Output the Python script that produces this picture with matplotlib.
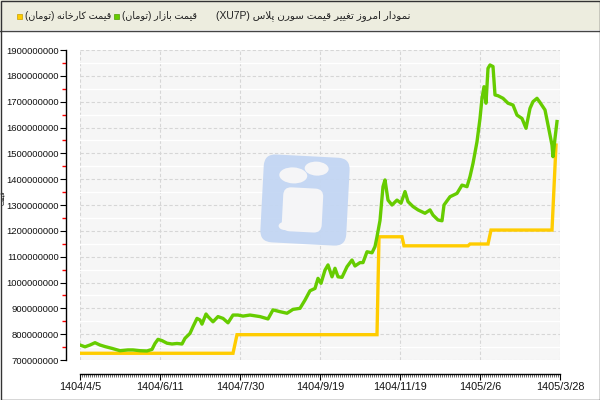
import re
import numpy as np
import matplotlib
matplotlib.use('Agg')
import matplotlib.pyplot as plt
import matplotlib.transforms as mtransforms
from matplotlib.patches import Rectangle, FancyBboxPatch, Ellipse
from matplotlib.ticker import MultipleLocator, FuncFormatter

# -- data (sample index along the x axis, price in million toman) --
market_t = [0, 5, 10, 15, 20, 25, 32, 40, 48, 53, 60, 67, 72, 75, 78, 82, 87, 92, 97, 102,
            105, 110, 113, 117, 120, 122, 126, 128, 133, 138, 143, 148, 153, 158, 163, 170,
            180, 188, 193, 200, 207, 213, 220, 225, 230, 235, 238, 241, 245, 248, 252, 255,
            258, 262, 267, 272, 275, 280, 283, 287, 292, 295, 297, 300, 303, 305, 308, 312,
            317, 321, 325, 328, 333, 338, 345, 350, 353, 358, 362, 364, 370, 377, 382, 387,
            390, 393, 397, 400, 402, 404, 406, 408, 410, 413, 415, 418, 423, 428, 433, 437,
            442, 446, 450, 453, 457, 460, 465, 468, 472, 473, 475, 477]
market_val = [758, 751, 758, 767, 758, 752, 745, 736, 739, 739, 736, 735, 741, 764, 780, 775,
              765, 762, 764, 762, 784, 803, 829, 861, 855, 839, 878, 868, 848, 868, 861, 844,
              874, 874, 870, 874, 868, 859, 894, 887, 881, 896, 900, 932, 968, 977, 1016, 997,
              1048, 1068, 1022, 1055, 1022, 1020, 1061, 1087, 1064, 1077, 1077, 1119, 1115,
              1139, 1177, 1240, 1371, 1397, 1319, 1300, 1319, 1307, 1352, 1313, 1294, 1281,
              1268, 1281, 1261, 1242, 1239, 1300, 1332, 1345, 1377, 1371, 1410, 1461, 1545,
              1635, 1713, 1758, 1694, 1829, 1842, 1836, 1726, 1723, 1713, 1694, 1687, 1648,
              1635, 1597, 1674, 1700, 1713, 1697, 1668, 1610, 1532, 1487, 1558, 1623]

factory_t = [0, 153, 157, 297, 299, 322, 324, 388, 390, 408, 411, 472, 476]
factory_val = [726, 726, 798, 798, 1177, 1177, 1142, 1142, 1149, 1149, 1203, 1203, 1532]

tick_pos = [0, 80, 160, 240, 320, 400, 480]
tick_labels = ['1404/4/5', '1404/6/11', '1404/7/30', '1404/9/19', '1404/11/19',
               '1405/2/6', '1405/3/28']

title = 'نمودار امروز تغییر قیمت سورن پلاس (XU7P)'
label_market = 'قیمت بازار (تومان)'
label_factory = 'قیمت کارخانه (تومان)'

# -- tiny persian shaper (no arabic_reshaper available) --
FORMS = {
    'ا': (0xFE8D, 0xFE8E), 'د': (0xFEA9, 0xFEAA), 'ر': (0xFEAD, 0xFEAE),
    'ز': (0xFEAF, 0xFEB0), 'و': (0xFEED, 0xFEEE),
    'ب': (0xFE8F, 0xFE90, 0xFE91, 0xFE92), 'پ': (0xFB56, 0xFB57, 0xFB58, 0xFB59),
    'ت': (0xFE95, 0xFE96, 0xFE97, 0xFE98), 'خ': (0xFEA5, 0xFEA6, 0xFEA7, 0xFEA8),
    'س': (0xFEB1, 0xFEB2, 0xFEB3, 0xFEB4), 'غ': (0xFECD, 0xFECE, 0xFECF, 0xFED0),
    'ق': (0xFED5, 0xFED6, 0xFED7, 0xFED8), 'ک': (0xFB8E, 0xFB8F, 0xFB90, 0xFB91),
    'ل': (0xFEDD, 0xFEDE, 0xFEDF, 0xFEE0), 'م': (0xFEE1, 0xFEE2, 0xFEE3, 0xFEE4),
    'ن': (0xFEE5, 0xFEE6, 0xFEE7, 0xFEE8), 'ه': (0xFEE9, 0xFEEA, 0xFEEB, 0xFEEC),
    'ی': (0xFBFC, 0xFBFD, 0xFBFE, 0xFBFF),
}


def shape(text):
    out = []
    i = 0
    n = len(text)
    while i < n:
        c = text[i]
        if c not in FORMS:
            out.append(c)
            i += 1
            continue
        prev = text[i - 1] if i > 0 else None
        link_prev = prev in FORMS and len(FORMS[prev]) == 4
        if c == 'ل' and i + 1 < n and text[i + 1] == 'ا':
            out.append(chr(0xFEFC if link_prev else 0xFEFB))
            i += 2
            continue
        nxt = text[i + 1] if i + 1 < n else None
        f = FORMS[c]
        link_next = len(f) == 4 and nxt in FORMS
        if link_prev and link_next:
            g = f[3]
        elif link_prev:
            g = f[1]
        elif link_next:
            g = f[2]
        else:
            g = f[0]
        out.append(chr(g))
        i += 1
    return ''.join(out)


def fa(text):
    s = shape(text)[::-1].translate(str.maketrans('()', ')('))
    return re.sub(r'[A-Za-z0-9]+', lambda m: m.group(0)[::-1], s)


plt.rcParams['font.family'] = ['Liberation Sans', 'DejaVu Sans']

fig = plt.figure(figsize=(6, 4), dpi=100)
ax = fig.add_axes([80 / 600, 40 / 400, 480 / 600, 310 / 400])

# -- header bar --
fig.add_artist(Rectangle((0, 370 / 400), 1, 30 / 400, transform=fig.transFigure,
                         facecolor='#ededdf', edgecolor='none', zorder=0))
fig.add_artist(plt.Line2D([0, 1], [369.5 / 400, 369.5 / 400], transform=fig.transFigure,
                          color='#444444', lw=1))
fig.add_artist(Rectangle((0.5 / 600, 0.5 / 400), 599 / 600, 399 / 400, transform=fig.transFigure,
                         facecolor='none', edgecolor='#333333', lw=1, zorder=5))

hy = 1 - 16 / 400
fig.add_artist(Rectangle((17 / 600, hy - 3 / 400), 5 / 600, 5 / 400, transform=fig.transFigure,
                         facecolor='#ffcc00', edgecolor='#c8a000', lw=0.5))
fig.text(25 / 600, hy, fa(label_factory), fontsize=6.9, va='center', ha='left', color='#222222')
fig.add_artist(Rectangle((114 / 600, hy - 3 / 400), 5 / 600, 5 / 400, transform=fig.transFigure,
                         facecolor='#66cc00', edgecolor='#4f9e00', lw=0.5))
fig.text(122 / 600, hy, fa(label_market), fontsize=6.9, va='center', ha='left', color='#222222')
fig.text(410 / 600, hy, fa(title), fontsize=7.5, va='center', ha='right', color='#222222')

fig.text(1 / 600, 202 / 400, fa('قیمت'), fontsize=4.5, rotation=90, va='center', ha='left')

# -- plot area --
ax.set_facecolor('#f6f6f6')
ax.set_axisbelow(True)
ax.plot(factory_t, np.array(factory_val) * 1e6, color='#ffcc00', lw=2.4, zorder=3,
        solid_joinstyle='miter')
ax.plot(market_t, np.array(market_val) * 1e6, color='#66cc00', lw=2.4, zorder=4)

ax.set_xlim(0, 480)
ax.set_ylim(7e8, 1.9e9)
ax.set_xticks(tick_pos)
ax.set_xticklabels(tick_labels)
ax.xaxis.set_minor_locator(MultipleLocator(2))
ax.yaxis.set_major_locator(MultipleLocator(1e8))
ax.yaxis.set_minor_locator(MultipleLocator(5e7))
ax.yaxis.set_major_formatter(FuncFormatter(lambda v, _: f'{int(round(v))}'))

ax.grid(True, which='major', color='#d6d6d6', lw=0.8, ls=(0, (3, 2)))
ax.grid(True, which='minor', axis='y', color='#ffffff', lw=1.0)

for s in ['top', 'right']:
    ax.spines[s].set_visible(False)
for s in ['left', 'bottom']:
    ax.spines[s].set_position(('outward', 10))
    ax.spines[s].set_color('black')
    ax.spines[s].set_linewidth(1)

ax.tick_params(axis='both', which='major', length=4, color='black', labelsize=6.8,
               labelcolor='#111111', pad=1)
ax.tick_params(axis='x', which='major', labelsize=7.8, pad=2)
ax.tick_params(axis='y', which='minor', length=3, color='red', width=1)
ax.tick_params(axis='x', which='minor', length=2, color='#555555', width=0.6)

# -- watermark logo (display pixels) --
rot = mtransforms.Affine2D().rotate_deg_around(304, 200, -3)
logo = FancyBboxPatch((262, 156), 86, 88, boxstyle='round,pad=0,rounding_size=12',
                      facecolor='#c3d6f3', edgecolor='none', alpha=0.95, transform=rot, zorder=1.5)
ax.add_patch(logo)
for (cx, cy, w, h) in [(292, 224, 28, 16), (315, 232, 24, 14), (286, 173, 12, 8)]:
    ax.add_patch(Ellipse((cx, cy), w, h, facecolor='#f5f5f7', edgecolor='none',
                         transform=rot, zorder=1.6))
ax.add_patch(FancyBboxPatch((283, 168), 40, 44, boxstyle='round,pad=0,rounding_size=8',
                            facecolor='#f5f5f7', edgecolor='none', transform=rot, zorder=1.6))

fig.savefig('out.png', dpi=100)
